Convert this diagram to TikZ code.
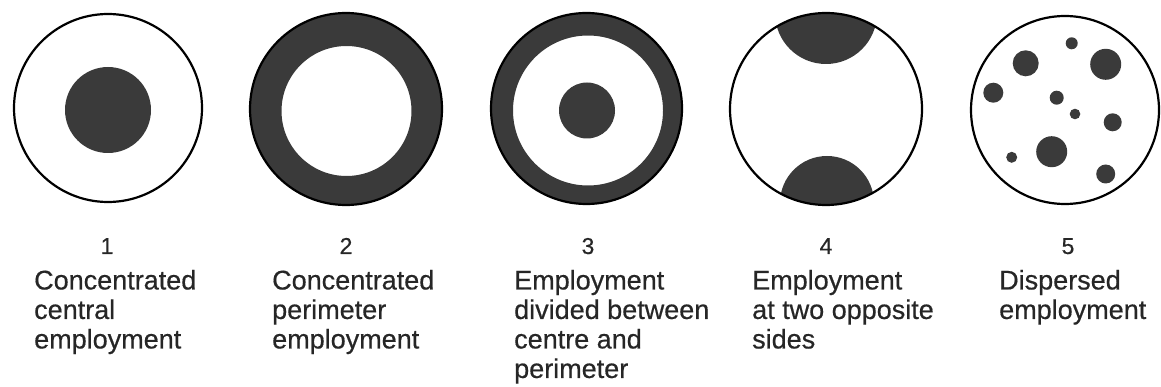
\documentclass[tikz,border=0pt]{standalone}
\usepackage{fontspec}
\setmainfont{Liberation Sans}
\newfontfamily\lblfont{Liberation Sans}[FakeBold=0.5]
\definecolor{inkc}{HTML}{3A3A3A}
\definecolor{txtc}{HTML}{262626}
\begin{document}
\begin{tikzpicture}[x=1pt,y=-1pt,
  rim/.style={draw=black,line width=2.2pt},
  ink/.style={fill=inkc},
  num/.style={anchor=base,inner sep=0pt,text=txtc,font=\lblfont\fontsize{23}{23}\selectfont},
  lbl/.style={anchor=north west,inner sep=0pt,align=left,text=txtc,font=\lblfont\fontsize{27}{29.5}\selectfont}]
\useasboundingbox (0,0) rectangle (1161,387);
% 1
\draw[rim] (108,108) circle[radius=94];
\fill[ink] (108,110) circle[radius=43];
% 2
\fill[ink,even odd rule] (346,109) circle[radius=96] (346.5,111) circle[radius=65];
\draw[rim] (346,109) circle[radius=96];
% 3
\fill[ink,even odd rule] (586.5,108.5) circle[radius=95.5] (588,110.5) circle[radius=75];
\draw[rim] (586.5,108.5) circle[radius=95.5];
\fill[ink] (587,110.5) circle[radius=28];
% 4
\begin{scope}
\clip (826,109) circle[radius=96];
\fill[ink] (826,13) circle[radius=51];
\fill[ink] (827,203) circle[radius=47];
\end{scope}
\draw[rim] (826,109) circle[radius=96];
% 5
\draw[rim] (1065,110) circle[radius=94];
\foreach \px/\py/\r in {1071.7/43.3/6, 1025.7/63.3/13, 1105.7/64.3/15.5, 993.3/92.7/10, 1056.7/97.7/7, 1075/114/5.3, 1112.7/122.3/9, 1051.7/151.7/15.5, 1011.7/157.3/5.5, 1105.7/174/9.5}
  \fill[ink] (\px,\py) circle[radius=\r];
% labels
\node[num] (n1) at (107,254) {1};
\node[num] (n2) at (346,254) {2};
\node[num] (n3) at (588,254) {3};
\node[num] (n4) at (826,254) {4};
\node[num] (n5) at (1068,254) {5};
\node[lbl] (t1) at (34,269.7) {Concentrated\\central\\employment};
\node[lbl] (t2) at (272,269.7) {Concentrated\\perimeter\\employment};
\node[lbl] (t3) at (514,269.7) {Employment\\divided between\\centre and\\perimeter};
\node[lbl] (t4) at (752,269.7) {Employment\\at two opposite\\sides};
\node[lbl] (t5) at (999,269.7) {Dispersed\\employment};
\end{tikzpicture}
\end{document}
